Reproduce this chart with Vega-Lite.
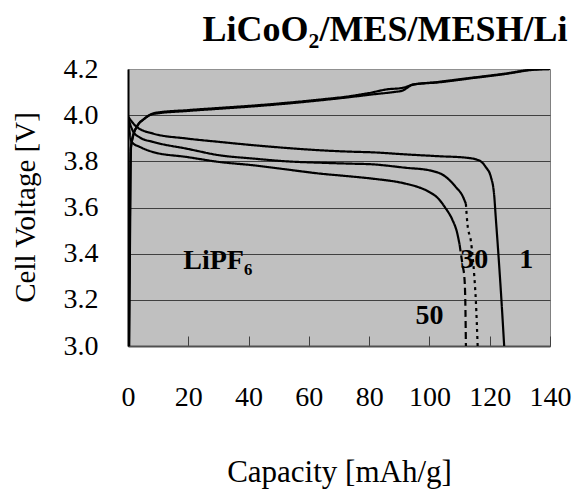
{
  "$schema": "https://vega.github.io/schema/vega-lite/v6.json",
  "width": 422,
  "height": 277,
  "autosize": {"type": "none"},
  "padding": {"left": 128, "top": 69, "right": 25, "bottom": 143},
  "background": "white",
  "config": {"view": {"fill": "#c0c0c0", "stroke": "#808080", "strokeWidth": 1}},
  "title": {
    "text": "LiCoO₂/MES/MESH/Li",
    "font": "Liberation Serif",
    "fontSize": 36,
    "fontWeight": "bold",
    "color": "black",
    "anchor": "middle",
    "frame": "group",
    "dx": 46,
    "baseline": "alphabetic",
    "offset": -22
  },
  "datasets": {
    "curves": [
      {"seg": "charge A", "cap": 0.3, "v": 3.0},
      {"seg": "charge A", "cap": 0.6, "v": 3.5},
      {"seg": "charge A", "cap": 0.9, "v": 3.85},
      {"seg": "charge A", "cap": 1.5, "v": 3.9},
      {"seg": "charge A", "cap": 2.9, "v": 3.95},
      {"seg": "charge A", "cap": 5, "v": 3.98},
      {"seg": "charge A", "cap": 8.3, "v": 4.005},
      {"seg": "charge A", "cap": 19.5, "v": 4.018},
      {"seg": "charge A", "cap": 30.5, "v": 4.028},
      {"seg": "charge A", "cap": 41.5, "v": 4.038},
      {"seg": "charge A", "cap": 52.6, "v": 4.05},
      {"seg": "charge A", "cap": 63.6, "v": 4.064},
      {"seg": "charge A", "cap": 73.5, "v": 4.078},
      {"seg": "charge A", "cap": 81.1, "v": 4.09},
      {"seg": "charge A", "cap": 88, "v": 4.1},
      {"seg": "charge A", "cap": 91, "v": 4.106},
      {"seg": "charge A", "cap": 93, "v": 4.122},
      {"seg": "charge A", "cap": 94.4, "v": 4.133},
      {"seg": "charge A", "cap": 103, "v": 4.142},
      {"seg": "charge A", "cap": 114, "v": 4.16},
      {"seg": "charge A", "cap": 125, "v": 4.178},
      {"seg": "charge A", "cap": 134, "v": 4.196},
      {"seg": "charge A", "cap": 140, "v": 4.2},
      {"seg": "charge B", "cap": 0.4, "v": 3.0},
      {"seg": "charge B", "cap": 0.7, "v": 3.5},
      {"seg": "charge B", "cap": 1.0, "v": 3.86},
      {"seg": "charge B", "cap": 1.7, "v": 3.91},
      {"seg": "charge B", "cap": 3.2, "v": 3.955},
      {"seg": "charge B", "cap": 5.5, "v": 3.985},
      {"seg": "charge B", "cap": 9, "v": 4.01},
      {"seg": "charge B", "cap": 20, "v": 4.022},
      {"seg": "charge B", "cap": 31, "v": 4.032},
      {"seg": "charge B", "cap": 42, "v": 4.042},
      {"seg": "charge B", "cap": 53, "v": 4.054},
      {"seg": "charge B", "cap": 64, "v": 4.068},
      {"seg": "charge B", "cap": 74, "v": 4.083},
      {"seg": "charge B", "cap": 80, "v": 4.096},
      {"seg": "charge B", "cap": 86, "v": 4.112},
      {"seg": "charge B", "cap": 91, "v": 4.118},
      {"seg": "charge B", "cap": 94, "v": 4.13},
      {"seg": "charge B", "cap": 103, "v": 4.144},
      {"seg": "charge B", "cap": 114, "v": 4.162},
      {"seg": "charge B", "cap": 125, "v": 4.18},
      {"seg": "charge B", "cap": 134, "v": 4.197},
      {"seg": "charge B", "cap": 140, "v": 4.2},
      {"seg": "1", "cap": 0, "v": 3.995},
      {"seg": "1", "cap": 2.9, "v": 3.949},
      {"seg": "1", "cap": 8.4, "v": 3.92},
      {"seg": "1", "cap": 19.4, "v": 3.899},
      {"seg": "1", "cap": 30.5, "v": 3.884},
      {"seg": "1", "cap": 41.5, "v": 3.87},
      {"seg": "1", "cap": 52.5, "v": 3.858},
      {"seg": "1", "cap": 63.6, "v": 3.848},
      {"seg": "1", "cap": 73.5, "v": 3.842},
      {"seg": "1", "cap": 81.1, "v": 3.839},
      {"seg": "1", "cap": 92.2, "v": 3.83},
      {"seg": "1", "cap": 103.3, "v": 3.822},
      {"seg": "1", "cap": 112, "v": 3.816},
      {"seg": "1", "cap": 116.5, "v": 3.804},
      {"seg": "1", "cap": 118.7, "v": 3.775},
      {"seg": "1", "cap": 120.4, "v": 3.732},
      {"seg": "1", "cap": 121.5, "v": 3.65},
      {"seg": "1", "cap": 122, "v": 3.558},
      {"seg": "1", "cap": 122.8, "v": 3.413},
      {"seg": "1", "cap": 123.9, "v": 3.196},
      {"seg": "1", "cap": 124.8, "v": 3.0},
      {"seg": "30", "cap": 0, "v": 3.99},
      {"seg": "30", "cap": 1.8, "v": 3.927},
      {"seg": "30", "cap": 4, "v": 3.903},
      {"seg": "30", "cap": 8.4, "v": 3.884},
      {"seg": "30", "cap": 19.4, "v": 3.855},
      {"seg": "30", "cap": 30.5, "v": 3.826},
      {"seg": "30", "cap": 41.5, "v": 3.812},
      {"seg": "30", "cap": 52.5, "v": 3.8},
      {"seg": "30", "cap": 63.6, "v": 3.794},
      {"seg": "30", "cap": 73.5, "v": 3.79},
      {"seg": "30", "cap": 81.1, "v": 3.787},
      {"seg": "30", "cap": 92.2, "v": 3.772},
      {"seg": "30", "cap": 100, "v": 3.761},
      {"seg": "30", "cap": 105.5, "v": 3.732},
      {"seg": "30", "cap": 108.8, "v": 3.688},
      {"seg": "30", "cap": 111, "v": 3.65},
      {"seg": "30", "cap": 112.1, "v": 3.616},
      {"seg": "30 tail", "cap": 112.1, "v": 3.616},
      {"seg": "30 tail", "cap": 112.6, "v": 3.53},
      {"seg": "30 tail", "cap": 113.8, "v": 3.45},
      {"seg": "30 tail", "cap": 114.9, "v": 3.3},
      {"seg": "30 tail", "cap": 115.4, "v": 3.196},
      {"seg": "30 tail", "cap": 116, "v": 3.0},
      {"seg": "50", "cap": 0, "v": 3.99},
      {"seg": "50", "cap": 1.2, "v": 3.884},
      {"seg": "50", "cap": 4, "v": 3.862},
      {"seg": "50", "cap": 8.4, "v": 3.84},
      {"seg": "50", "cap": 19.4, "v": 3.819},
      {"seg": "50", "cap": 30.5, "v": 3.797},
      {"seg": "50", "cap": 41.5, "v": 3.783},
      {"seg": "50", "cap": 52.5, "v": 3.765},
      {"seg": "50", "cap": 63.6, "v": 3.747},
      {"seg": "50", "cap": 73.5, "v": 3.735},
      {"seg": "50", "cap": 81.1, "v": 3.725},
      {"seg": "50", "cap": 92.2, "v": 3.703},
      {"seg": "50", "cap": 97, "v": 3.685},
      {"seg": "50", "cap": 100, "v": 3.667},
      {"seg": "50", "cap": 103, "v": 3.638},
      {"seg": "50", "cap": 105.2, "v": 3.6},
      {"seg": "50", "cap": 107.5, "v": 3.55},
      {"seg": "50", "cap": 109.2, "v": 3.49},
      {"seg": "50", "cap": 110, "v": 3.44},
      {"seg": "50 tail", "cap": 110, "v": 3.44},
      {"seg": "50 tail", "cap": 111, "v": 3.35},
      {"seg": "50 tail", "cap": 111.6, "v": 3.297},
      {"seg": "50 tail", "cap": 111.9, "v": 3.196},
      {"seg": "50 tail", "cap": 112.1, "v": 3.0}
    ],
    "labels": [
      {"cap": 29.8, "v": 3.37, "t": "LiPF₆"},
      {"cap": 114.9, "v": 3.374, "t": "30"},
      {"cap": 132.1, "v": 3.374, "t": "1"},
      {"cap": 100, "v": 3.13, "t": "50"}
    ]
  },
  "layer": [
    {
      "data": {"name": "curves"},
      "mark": {"type": "line", "color": "black", "strokeWidth": 2.2, "interpolate": "monotone", "clip": true},
      "encoding": {
        "x": {
          "field": "cap", "type": "quantitative",
          "scale": {"domain": [0, 140], "nice": false, "zero": false},
          "axis": {
            "title": "Capacity [mAh/g]",
            "values": [0, 20, 40, 60, 80, 100, 120, 140],
            "labelFont": "Liberation Serif", "labelFontSize": 28, "labelColor": "black",
            "labelFlush": false, "labelOverlap": false,
            "labelBaseline": "alphabetic",
            "tickSize": -10, "tickColor": "#404040", "tickWidth": 1,
            "labelPadding": 69,
            "domainColor": "#505050", "domainWidth": 2,
            "grid": false,
            "titleFont": "Liberation Serif", "titleFontSize": 31, "titleFontWeight": "normal", "titleColor": "black",
            "titleBaseline": "alphabetic", "titleY": 135, "titleX": 211, "titleAlign": "center"
          }
        },
        "y": {
          "field": "v", "type": "quantitative",
          "scale": {"domain": [3.0, 4.2], "nice": false, "zero": false},
          "axis": {
            "title": "Cell Voltage [V]",
            "values": [3.0, 3.2, 3.4, 3.6, 3.8, 4.0, 4.2],
            "format": ".1f",
            "labelFont": "Liberation Serif", "labelFontSize": 28, "labelColor": "black",
            "labelFlush": false, "labelOverlap": false, "labelBaseline": "middle",
            "ticks": false, "labelPadding": 30,
            "domainColor": "black", "domainWidth": 2,
            "grid": true,
            "gridColor": {"condition": {"test": "datum.value >= 4.19", "value": "#909090"}, "value": "#404040"},
            "gridWidth": 1,
            "titleFont": "Liberation Serif", "titleFontSize": 29, "titleFontWeight": "normal", "titleColor": "black",
            "titleAngle": -90, "titleX": -117, "titleY": 138, "titleBaseline": "top", "titleAlign": "center"
          }
        },
        "strokeDash": {
          "field": "seg", "type": "nominal",
          "scale": {
            "domain": ["charge A", "charge B", "1", "30", "30 tail", "50", "50 tail"],
            "range": [[1, 0], [1, 0], [1, 0], [1, 0], [3, 4], [1, 0], [7, 4]]
          },
          "legend": null
        }
      }
    },
    {
      "data": {"name": "labels"},
      "mark": {"type": "text", "font": "Liberation Serif", "fontSize": 28, "fontWeight": "bold", "color": "black", "align": "center", "baseline": "middle"},
      "encoding": {
        "x": {"field": "cap", "type": "quantitative"},
        "y": {"field": "v", "type": "quantitative"},
        "text": {"field": "t", "type": "nominal"}
      }
    }
  ]
}
